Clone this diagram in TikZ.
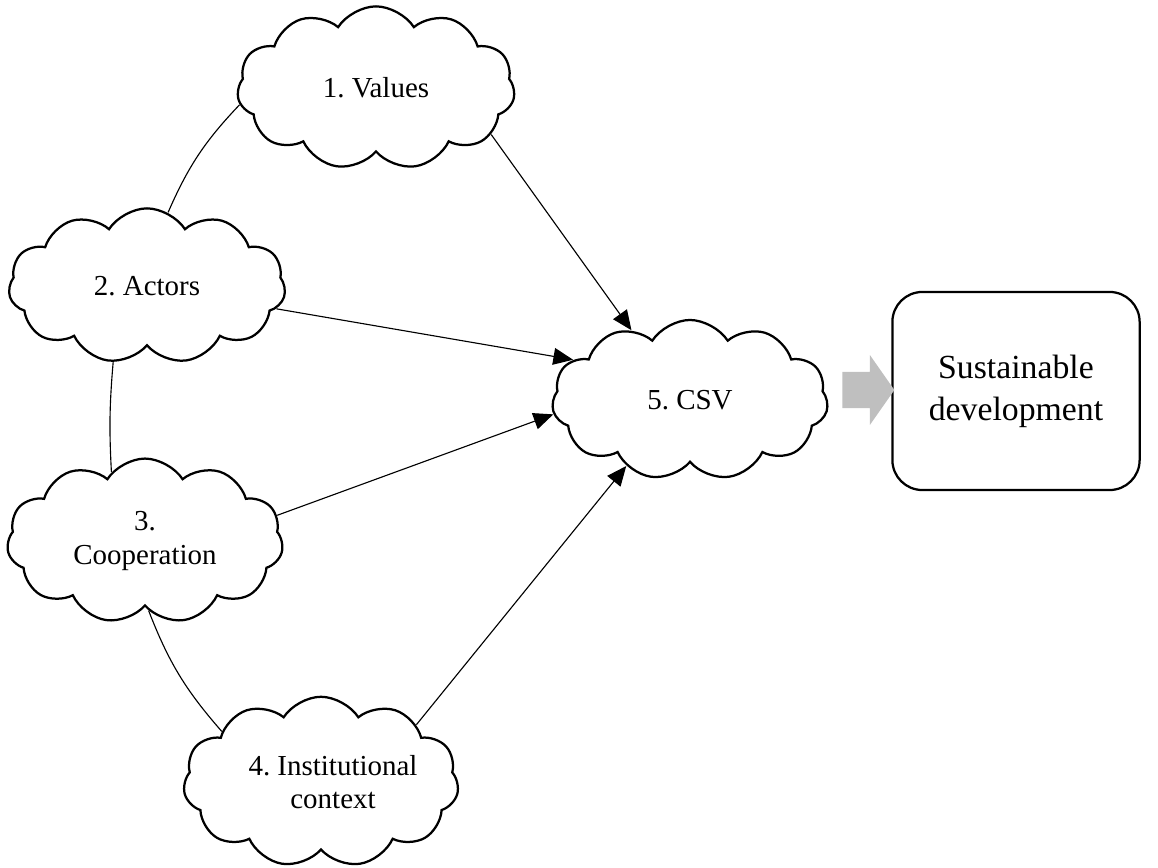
\documentclass[tikz,border=0pt]{standalone}
\usepackage{fontspec}
\setmainfont{Liberation Serif}
\usetikzlibrary{shapes.symbols,shapes.arrows,arrows.meta}
\begin{document}
\frenchspacing
\begin{tikzpicture}[x=0.0125cm,y=-0.0125cm,
    puff/.style={cloud, cloud puffs=11, cloud puff arc=115, cloud ignores aspect,
      draw=black, line width=0.8pt, align=center, font=\fontsize{10.3}{11.9}\selectfont, inner sep=0pt},
    link/.style={black, line width=0.4pt},
    feed/.style={link, -{Triangle[length=7pt,width=6pt]}}]
    \useasboundingbox (0,0) rectangle (1158,868);
    \node[puff, minimum width=3.47cm, minimum height=2.04cm] (values) at (376,88) {1. Values};
    \node[puff, minimum width=3.46cm, minimum height=1.94cm] (actors) at (147,286) {2. Actors};
    \node[puff, minimum width=3.45cm, minimum height=2.06cm] (coop) at (145,541) {3.\\Cooperation};
    \node[puff, minimum width=3.44cm, minimum height=2.13cm] (context) at (321,782)
      {\hspace*{0.3cm}4. Institutional\\\hspace*{0.3cm}context};
    \node[puff, minimum width=3.45cm, minimum height=2.0cm] (csv) at (690,400) {5. CSV};
    \node[draw=black, line width=0.8pt, rounded corners=0.375cm, minimum width=3.09cm,
      minimum height=2.475cm, align=center, font=\fontsize{12}{15}\selectfont] (sd) at (1016,391) {Sustainable\\development};
    \node[single arrow, fill=black!25, draw=none, inner sep=0.22cm, minimum height=0.65cm,
      single arrow head extend=0.21cm, single arrow tip angle=110] (push) at (862,390) {};
    % arrows into CSV
    \draw[feed] (values.-22) -- (csv.130);
    \draw[feed] (actors.-10) -- (csv.161);
    \draw[feed] (coop.11) -- (csv.-174);
    \draw[feed] (context.31) -- (csv.-134);
    % ring on the left
    \draw[link] (values.187) to[bend right=10] (actors.74);
    \draw[link] (actors.-114) to[bend right=4] (coop.116);
    \draw[link] (coop.-87) to[bend right=10] (context.153);
  \end{tikzpicture}
\end{document}
